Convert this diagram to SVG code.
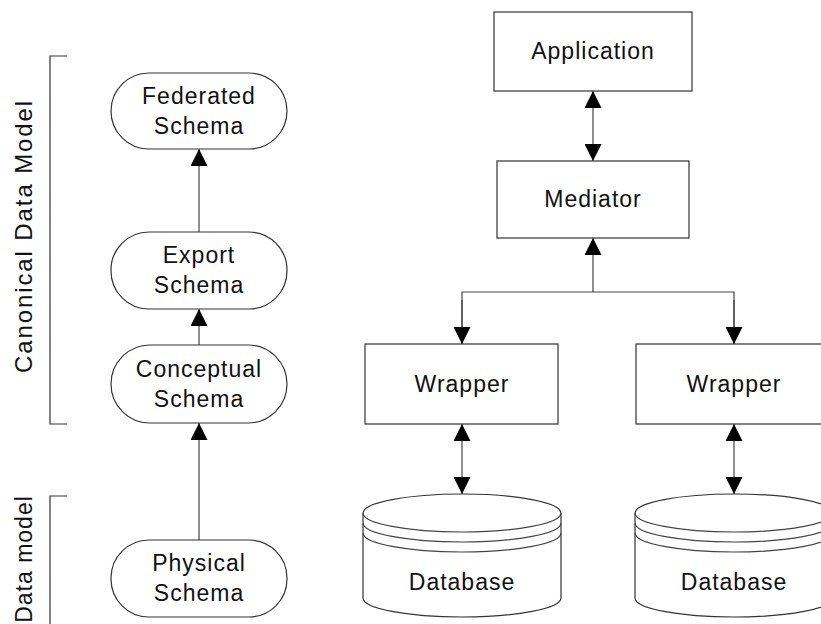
<svg xmlns="http://www.w3.org/2000/svg" width="821" height="624" viewBox="0 0 821 624">
<style>
.box{fill:#fff;stroke:#333;stroke-width:1.2}
.ln{fill:none;stroke:#444;stroke-width:1.2}
.t{font-family:"Liberation Sans",Arial,sans-serif;font-size:23px;letter-spacing:1px;fill:#111;text-anchor:middle}
.big{font-size:24px;letter-spacing:1.9px}
.br{fill:none;stroke:#333;stroke-width:1.2}
</style>
<defs>
<marker id="ah" viewBox="0 0 17 17" refX="17" refY="8.5" markerWidth="17" markerHeight="17" markerUnits="userSpaceOnUse" orient="auto-start-reverse">
<path d="M0,0 L17,8.5 L0,17 Z" fill="#000"/>
</marker>
</defs>
<g id="labels">
<path class="br" d="M67,56 H50 V424 H67"/>
<path class="br" d="M67,496 H50 V624"/>
<text class="t big" transform="translate(32,236) rotate(-90)">Canonical Data Model</text>
<text class="t" transform="translate(32,559) rotate(-90)">Data model</text>
</g>
<g id="connectors">
<line class="ln" x1="199" y1="232" x2="199" y2="149" marker-end="url(#ah)"/>
<line class="ln" x1="199" y1="345" x2="199" y2="309" marker-end="url(#ah)"/>
<line class="ln" x1="199" y1="540" x2="199" y2="423" marker-end="url(#ah)"/>
<line class="ln" x1="593" y1="91" x2="593" y2="161" marker-start="url(#ah)" marker-end="url(#ah)"/>
<line class="ln" x1="593" y1="292" x2="593" y2="238" marker-end="url(#ah)"/>
<path class="ln" d="M462,344 V292 H734 V344"/>
<line class="ln" x1="462" y1="300" x2="462" y2="344" marker-end="url(#ah)"/>
<line class="ln" x1="734" y1="300" x2="734" y2="344" marker-end="url(#ah)"/>
<line class="ln" x1="462" y1="424" x2="462" y2="494" marker-start="url(#ah)" marker-end="url(#ah)"/>
<line class="ln" x1="734" y1="424" x2="734" y2="494" marker-start="url(#ah)" marker-end="url(#ah)"/>
</g>
<g id="federated">
<rect class="box" x="111" y="73" width="176" height="76" rx="38"/>
<text class="t" x="199" y="104">Federated</text>
<text class="t" x="199" y="134">Schema</text>
</g>
<g id="export">
<rect class="box" x="111" y="232" width="176" height="77" rx="38"/>
<text class="t" x="199" y="263">Export</text>
<text class="t" x="199" y="293">Schema</text>
</g>
<g id="conceptual">
<rect class="box" x="111" y="345" width="176" height="78" rx="39"/>
<text class="t" x="199" y="377">Conceptual</text>
<text class="t" x="199" y="407">Schema</text>
</g>
<g id="physical">
<rect class="box" x="111" y="540" width="176" height="77" rx="38"/>
<text class="t" x="199" y="571">Physical</text>
<text class="t" x="199" y="601">Schema</text>
</g>
<g id="application">
<rect class="box" x="494" y="12" width="198" height="79"/>
<text class="t" x="593" y="59">Application</text>
</g>
<g id="mediator">
<rect class="box" x="497" y="161" width="192" height="77"/>
<text class="t" x="593" y="207">Mediator</text>
</g>
<g id="wrapper1">
<rect class="box" x="365" y="344" width="193" height="80"/>
<text class="t" x="462" y="392">Wrapper</text>
</g>
<g id="wrapper2">
<rect class="box" x="636" y="344" width="196" height="80"/>
<text class="t" x="734" y="392">Wrapper</text>
</g>
<g id="database1">
<path class="box" d="M363,513 A99,19 0 0,1 561,513 L561,598 A99,19 0 0,1 363,598 Z"/>
<path class="ln" d="M363,513 A99,19 0 0,0 561,513 M363,523 A99,19 0 0,0 561,523 M363,533 A99,19 0 0,0 561,533"/>
<text class="t" x="462" y="590">Database</text>
</g>
<g id="database2">
<path class="box" d="M635,513 A99,19 0 0,1 833,513 L833,598 A99,19 0 0,1 635,598 Z"/>
<path class="ln" d="M635,513 A99,19 0 0,0 833,513 M635,523 A99,19 0 0,0 833,523 M635,533 A99,19 0 0,0 833,533"/>
<text class="t" x="734" y="590">Database</text>
</g>
</svg>
